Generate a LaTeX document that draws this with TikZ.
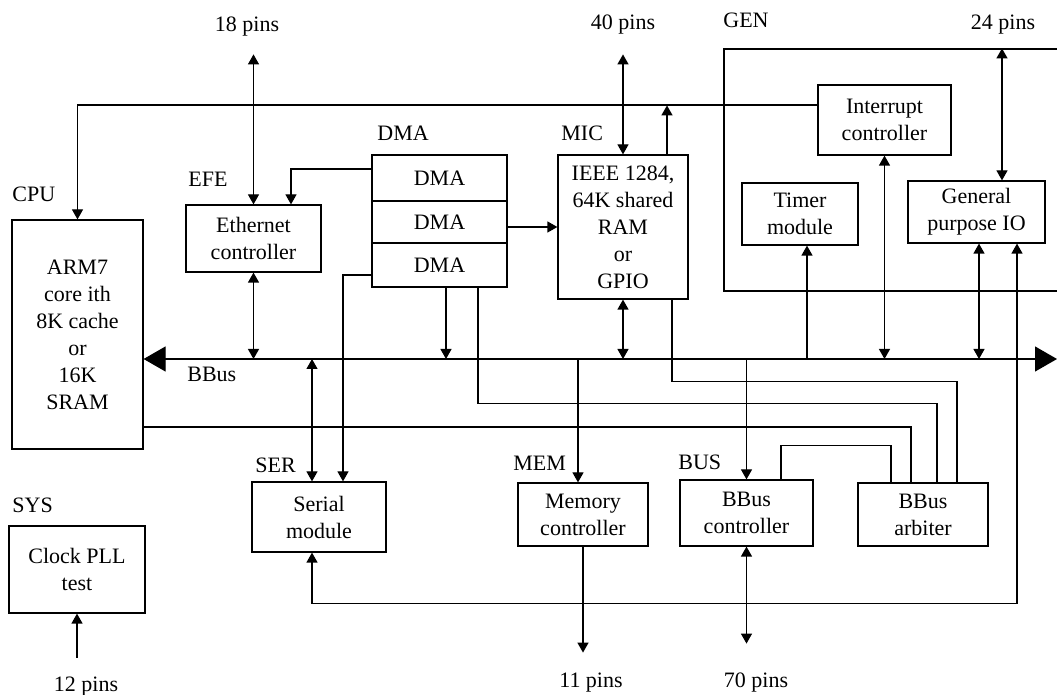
\documentclass[tikz,border=0pt]{standalone}
\usepackage{fontspec}
\setmainfont{Liberation Serif}
\usetikzlibrary{arrows.meta,calc}
\begin{document}
\begin{tikzpicture}[x=0.5pt,y=-0.5pt,
  font=\fontsize{11}{13.5}\selectfont,
  box/.style={draw,line width=0.6pt,align=center,inner sep=0pt},
  sz/.style 2 args={minimum width=#1*0.5pt,minimum height=#2*0.5pt},
  lbl/.style={inner sep=0pt,anchor=west},
  ln/.style={line width=0.6pt},
  arr/.style={ln,-{Triangle[length=5pt,width=5.5pt]}},
  dbl/.style={ln,{Triangle[length=5pt,width=5.5pt]}-{Triangle[length=5pt,width=5.5pt]}},
  busline/.style={line width=0.6pt,{Triangle[length=11pt,width=12.5pt]}-{Triangle[length=11pt,width=12.5pt]}}]
\useasboundingbox (0,0) rectangle (1057,695);

% boxes
\node[box,sz={131}{229}] (cpu) at (77.5,334.5) {ARM7\\core ith\\8K cache\\or\\16K\\SRAM};
\node[box,sz={135}{67}] (eth) at (253.5,238.5) {Ethernet\\controller};
\node[box,sz={135}{46}] (dma1) at (439.5,178) {DMA};
\node[box,sz={135}{42}] (dma2) at (439.5,222) {DMA};
\node[box,sz={135}{44}] (dma3) at (439.5,265) {DMA};
\node[box,sz={130}{144}] (mic) at (623,227) {IEEE 1284,\\64K shared\\RAM\\or\\GPIO};
\node[box,sz={133}{70}] (intc) at (884.5,120) {Interrupt\\controller};
\node[box,sz={116}{62}] (timer) at (800,214) {Timer\\module};
\node[box,sz={137}{62}] (gpio) at (976.5,212) {General\\purpose IO};
\node[box,sz={134}{70}] (ser) at (319,517) {Serial\\module};
\node[box,sz={130}{63}] (mem) at (583,514.5) {Memory\\controller};
\node[box,sz={133}{66}] (bbc) at (746.5,513) {BBus\\controller};
\node[box,sz={130}{63}] (arb) at (923,514.5) {BBus\\arbiter};
\node[box,sz={136}{87}] (sys) at (77,569.5) {Clock PLL\\test};

% GEN block outline (open to the right)
\draw[ln] (1062,49) -- (724,49) -- (724,291) -- (1062,291);

% labels
\node[lbl] (lcpu) at (12,194) {CPU};
\node[lbl] (lefe) at (188,179) {EFE};
\node[lbl] (ldma) at (377,133) {DMA};
\node[lbl] (lmic) at (561,133) {MIC};
\node[lbl] (lgen) at (723,20) {GEN};
\node[lbl] (lser) at (255,465) {SER};
\node[lbl] (lmem) at (513,463) {MEM};
\node[lbl] (lbus) at (678,462) {BUS};
\node[lbl] (lsys) at (12,505) {SYS};
\node[lbl] (lbbus) at (187,374) {BBus};
\node (p18) at (247,27) {18 pins};
\node (p40) at (623,25) {40 pins};
\node (p24) at (1003,25) {24 pins};
\node (p12) at (86,687) {12 pins};
\node (p11) at (591,683) {11 pins};
\node (p70) at (756,683) {70 pins};

% main bus
\coordinate (busR) at (1057,359);
\draw[busline] (cpu.east |- busR) -- (busR);

% interrupt line to CPU
\draw[arr] ($(intc.west)+(0,-15)$) -| (cpu.north);

% Ethernet
\draw[dbl] ($(eth.north)+(0,-150)$) -- (eth.north);
\draw[dbl] (eth.south) -- (eth.south |- busR);
\draw[arr] ($(dma1.west)+(0,-9)$) -| ($(eth.north)+(37.5,0)$);

% DMA
\draw[arr] (dma2.east |- mic.west) -- (mic.west);
\draw[arr] ($(dma3.west)+(0,10)$) -| ($(ser.north)+(24,0)$);
\coordinate (xD1) at ($(dma3.south)+(6.5,0)$);
\draw[arr] (xD1) -- (xD1 |- busR);
\coordinate (xD2) at ($(dma3.south)+(38.5,0)$);
\coordinate (xA2) at ($(arb.north)+(14,0)$);
\draw[ln] (xD2) -- ++(0,116) -| (xA2);

% Serial
\coordinate (xS1) at ($(ser.north)+(-7,0)$);
\draw[dbl] (xS1 |- busR) -- (xS1);
\coordinate (xS2) at ($(ser.south)+(-7,0)$);
\coordinate (xG2) at ($(gpio.south)+(40.5,0)$);
\draw[dbl] (xS2) -- ++(0,51) -| (xG2);

% MIC
\draw[dbl] ($(mic.north)+(0,-100)$) -- (mic.north);
\coordinate (xM2) at ($(mic.north)+(44,0)$);
\draw[arr] (xM2) -- ++(0,-49);
\draw[dbl] (mic.south) -- (mic.south |- busR);
\coordinate (xM3) at ($(mic.south)+(49,0)$);
\coordinate (xA4) at ($(arb.north)+(34,0)$);
\draw[ln] (xM3) -- ++(0,82) -| (xA4);

% CPU to arbiter
\coordinate (xA1) at ($(arb.north)+(-12,0)$);
\draw[ln] ($(cpu.east)+(0,92.5)$) -| (xA1);

% BBus controller / arbiter
\coordinate (xB2) at ($(bbc.north)+(34.5,0)$);
\coordinate (xA0) at ($(arb.north)+(-32,0)$);
\draw[ln] (xB2) -- ++(0,-34) -| (xA0);
\draw[arr] (bbc.north |- busR) -- (bbc.north);
\draw[dbl] (bbc.south) -- ++(0,97);

% Memory
\coordinate (xMe) at ($(mem.north)+(-5,0)$);
\draw[arr] (xMe |- busR) -- (xMe);
\draw[arr] (mem.south) -- ++(0,106);

% GEN block
\coordinate (xT) at ($(timer.south)+(7,0)$);
\draw[arr] (xT |- busR) -- (xT);
\draw[dbl] (intc.south) -- (intc.south |- busR);
\coordinate (xG1) at ($(gpio.south)+(2.5,0)$);
\draw[dbl] (xG1) -- (xG1 |- busR);
\draw[dbl] ($(gpio.north)+(25.5,-132)$) -- ($(gpio.north)+(25.5,0)$);

% SYS
\draw[arr] ($(sys.south)+(0,44)$) -- (sys.south);
\end{tikzpicture}
\end{document}
